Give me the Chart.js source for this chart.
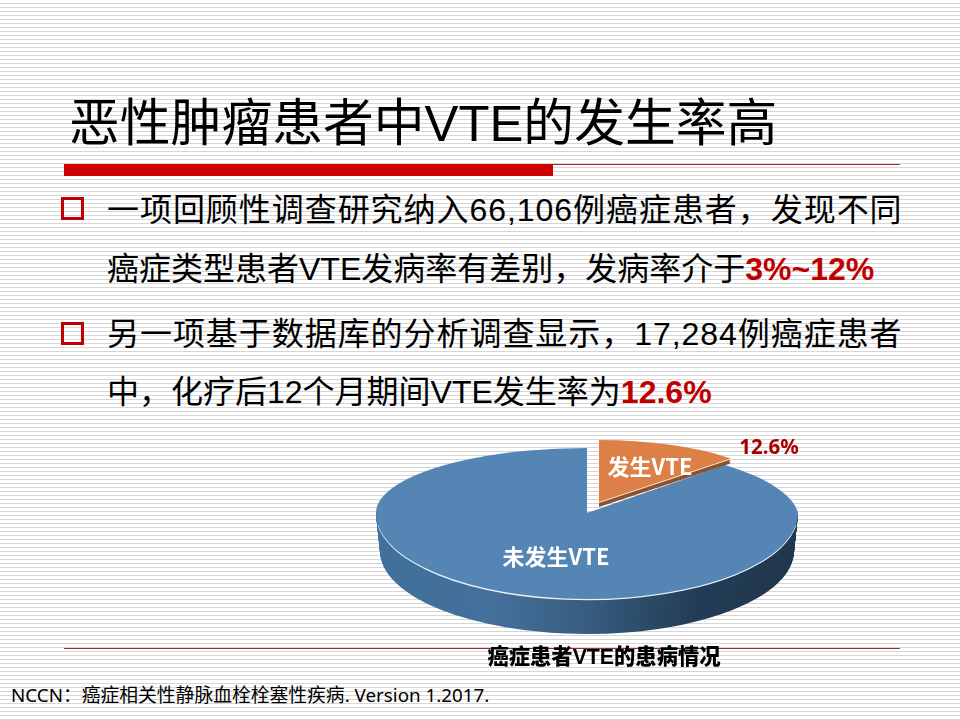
<!DOCTYPE html>
<html>
<head>
<meta charset="utf-8">
<title>恶性肿瘤患者中VTE的发生率高</title>
<script src="https://cdn.jsdelivr.net/npm/chart.js"></script>
<style>
  html, body { margin: 0; padding: 0; }
  body {
    width: 960px; height: 720px; position: relative; overflow: hidden; color: #000;
    font-family: "Liberation Sans", "Noto Sans CJK SC", sans-serif;
    background: repeating-linear-gradient(to bottom, #fff 0, #fff 3px, #d6d6d6 3px, #d6d6d6 4px);
  }
  .t { position: absolute; white-space: nowrap; line-height: 40px; }
  .body { left: 107px; font-size: 32px; }
  .wide { letter-spacing: 0.95px; }
  .body b { color: #c00000; }
  .bullet { position: absolute; left: 61px; width: 17px; height: 17px; border: 3px solid #c00000; }
  .rule { position: absolute; }
  #pie { position: absolute; left: 0; top: 0; }
</style>
</head>
<body>
  <div class="t" style="left:69px;top:104px;font-size:50.8px">恶性肿瘤患者中VTE的发生率高</div>
  <div class="rule" style="left:64px;top:164px;width:489px;height:12px;background:#cc0000"></div>
  <div class="rule" style="left:553px;top:164px;width:347px;height:1px;background:#a52a2a"></div>

  <div class="bullet" style="top:197px"></div>
  <div class="t body wide" style="top:190px">一项回顾性调查研究纳入66,106例癌症患者，发现不同</div>
  <div class="t body" style="top:249px">癌症类型患者VTE发病率有差别，发病率介于<b>3%~12%</b></div>
  <div class="bullet" style="top:322px"></div>
  <div class="t body wide" style="top:314px">另一项基于数据库的分析调查显示，17,284例癌症患者</div>
  <div class="t body" style="top:372px">中，化疗后12个月期间VTE发生率为<b>12.6%</b></div>

  <div class="rule" style="left:64px;top:648px;width:836px;height:1px;background:#a52a2a"></div>
  <div class="t" style="left:11px;top:675px;font-size:18.8px;font-family:'Noto Sans','Noto Sans CJK SC',sans-serif">NCCN：癌症相关性静脉血栓栓塞性疾病. Version 1.2017.</div>

  <canvas id="pie" width="960" height="720"></canvas>

<script>
const categories = ['发生VTE', '未发生VTE'];
const values = [12.6, 87.4];
const sliceColors = ['#dd8047', '#5585b5'];
const chartTitle = '癌症患者VTE的患病情况';

// 3D look: chart.js only draws round pies, so every arc is redrawn through a squashed transform
const blueCenter = { x: 587, y: 513 };
const orangeCenter = { x: 599, y: 502 };

function paintArc(ctx, arc, m, clip, fill) {
  const r = arc.outerRadius;
  const copy = Object.create(arc, { options: { value: { ...arc.options, backgroundColor: fill }, writable: true } });
  ctx.save();
  ctx.beginPath();
  ctx.rect(clip[0], clip[1], clip[2], clip[3]);
  ctx.clip();
  ctx.transform(m[0] / r, 0, m[1] / r, m[2] / r, m[3], m[4]);
  ctx.translate(-arc.x, -arc.y);
  copy.draw(ctx);
  ctx.restore();
}

const pie3d = {
  id: 'pie3d',
  beforeDatasetsDraw(chart) {
    const ctx = chart.ctx;
    const arcs = chart.getDatasetMeta(0).data;
    const orange = arcs[0], blue = arcs[1];
    const cx = blueCenter.x, cy = blueCenter.y;

    // side wall of the big slice
    const r = blue.outerRadius;
    const wall = ctx.createLinearGradient(blue.x - r, 0, blue.x + r, 0);
    wall.addColorStop(0, '#40709b');
    wall.addColorStop(0.28, '#44709a');
    wall.addColorStop(0.52, '#365b7d');
    wall.addColorStop(0.75, '#233d56');
    wall.addColorStop(1, '#20364c');
    const steps = 38;
    for (let i = steps; i >= 0; i--) {
      const t = i / steps;
      const y = cy + 38 * t;
      paintArc(ctx, blue, [211 - 4 * t, 0, 86 - 3 * t, cx, y], [0, y - 0.5, 960, 720], wall);
    }
    // white rim
    paintArc(ctx, blue, [211, 0, 86, cx, cy + 1.3], [0, cy + 12, 960, 720], '#e8f0f6');

    // top face: far half, sheared far right part so the gap edge lands right, near half
    const fill = sliceColors[1];
    paintArc(ctx, blue, [211, 0, 65, cx, cy], [0, 0, cx + 0.5, cy + 0.5], fill);
    paintArc(ctx, blue, [211, 17.4, 68.4, cx, cy], [cx - 0.5, 0, 960, cy + 0.5], fill);
    paintArc(ctx, blue, [211, 0, 86, cx, cy], [0, cy - 0.5, 960, 720], fill);

    // small slice pulled out of the pie
    const ox = orangeCenter.x, oy = orangeCenter.y;
    const all = [0, 0, 960, 720];
    for (let i = 5; i >= 2; i--) {
      paintArc(ctx, orange, [185, 0, 62, ox, oy + i], all, '#8c5230');
    }
    paintArc(ctx, orange, [185, 0, 62, ox, oy + 1], all, '#f2e6da');
    paintArc(ctx, orange, [185, 0, 62, ox, oy], all, sliceColors[0]);

    // labels
    ctx.save();
    ctx.textAlign = 'center';
    ctx.textBaseline = 'middle';
    ctx.fillStyle = '#fff';
    ctx.font = 'bold 22px "Noto Sans CJK SC"';
    ctx.fillText(categories[0], 650, 467);
    ctx.fillText(categories[1], 556, 557);
    ctx.fillStyle = '#a80000';
    ctx.font = 'bold 20.5px "Noto Sans"';
    ctx.fillText(values[0] + '%', 769, 448);
    ctx.restore();
    return false;
  }
};

new Chart(document.getElementById('pie'), {
  type: 'pie',
  data: {
    labels: categories,
    datasets: [{ data: values, backgroundColor: sliceColors, borderWidth: 0 }]
  },
  options: {
    responsive: false,
    animation: false,
    events: [],
    layout: { padding: { left: 248, top: 420, bottom: 49 } },
    plugins: {
      legend: { display: false },
      tooltip: { enabled: false },
      title: {
        display: true,
        position: 'bottom',
        text: chartTitle,
        color: '#000',
        padding: 0,
        font: { family: '"Liberation Sans", "Noto Sans CJK SC"', size: 21.3, weight: '900' }
      }
    }
  },
  plugins: [pie3d]
});
</script>
</body>
</html>
